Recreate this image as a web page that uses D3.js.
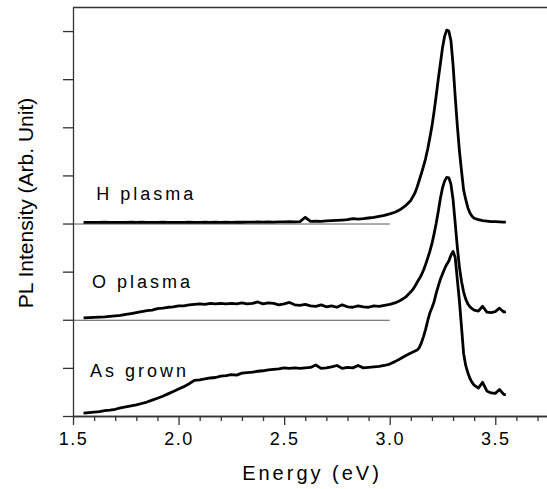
<!DOCTYPE html>
<html>
<head>
<meta charset="utf-8">
<script src="https://cdn.jsdelivr.net/npm/d3@7"></script>
<style>
  body { margin: 0; background: #fff; }
  svg { display: block; font-family: "Liberation Sans", Arial, sans-serif; }
  .axis path, .axis line { stroke: #333; stroke-width: 1.3; }
  .axis text { font-size: 18px; fill: #000; letter-spacing: 1.5px; }
</style>
</head>
<body>
<div id="chart"></div>
<script>
/*photon energy grid (eV), shared by all three spectra*/
var energy = [
  1.55, 1.575, 1.60, 1.625, 1.65, 1.675, 1.70, 1.725, 1.75, 1.775,
  1.80, 1.825, 1.85, 1.875, 1.90, 1.925, 1.95, 1.975, 2.00, 2.025,
  2.05, 2.075, 2.10, 2.125, 2.15, 2.175, 2.20, 2.225, 2.25, 2.275,
  2.30, 2.325, 2.35, 2.375, 2.40, 2.425, 2.45, 2.475, 2.50, 2.525,
  2.55, 2.575, 2.60, 2.625, 2.65, 2.675, 2.70, 2.725, 2.75, 2.775,
  2.80, 2.825, 2.85, 2.875, 2.90, 2.925, 2.95, 2.975, 3.00, 3.025,
  3.05, 3.075, 3.10,
  3.11, 3.12, 3.13, 3.14, 3.15, 3.16, 3.17, 3.18, 3.19, 3.20,
  3.21, 3.22, 3.23, 3.24, 3.25, 3.26, 3.27, 3.28, 3.29, 3.30,
  3.31, 3.32, 3.33, 3.34, 3.35, 3.36, 3.37, 3.38, 3.39, 3.40,
  3.42, 3.44, 3.46, 3.48, 3.50, 3.52, 3.54, 3.55
];

/*PL intensity of each sample, above its own baseline*/
var asGrown = [
  0.06, 0.07, 0.08, 0.09, 0.11, 0.12, 0.14, 0.17, 0.19, 0.21,
  0.23, 0.26, 0.29, 0.33, 0.37, 0.41, 0.46, 0.51, 0.56, 0.61,
  0.67, 0.74, 0.75, 0.77, 0.79, 0.80, 0.83, 0.84, 0.86, 0.85,
  0.89, 0.90, 0.91, 0.93, 0.94, 0.96, 0.97, 0.98, 1.00, 0.99,
  1.00, 0.99, 1.00, 1.01, 1.06, 0.99, 1.00, 1.02, 1.05, 0.99,
  1.01, 1.00, 1.05, 1.00, 1.01, 1.02, 1.03, 1.05, 1.08, 1.13,
  1.19, 1.25, 1.31,
  1.33, 1.35, 1.37, 1.42, 1.52, 1.65, 1.80, 1.98, 2.14, 2.25,
  2.37, 2.55, 2.70, 2.84, 2.95, 3.06, 3.15, 3.22, 3.34, 3.42,
  3.30, 2.85, 2.40, 1.85, 1.30, 1.05, 0.90, 0.78, 0.70, 0.64,
  0.58, 0.70, 0.52, 0.48, 0.47, 0.55, 0.45, 0.44
];

var oPlasma = [
  0.04, 0.045, 0.05, 0.055, 0.06, 0.07, 0.08, 0.09, 0.11, 0.13,
  0.15, 0.17, 0.19, 0.20, 0.23, 0.24, 0.26, 0.27, 0.29, 0.29,
  0.31, 0.32, 0.33, 0.32, 0.34, 0.33, 0.34, 0.33, 0.34, 0.33,
  0.35, 0.33, 0.34, 0.37, 0.33, 0.35, 0.34, 0.31, 0.33, 0.36,
  0.31, 0.30, 0.32, 0.29, 0.28, 0.31, 0.27, 0.29, 0.26, 0.31,
  0.27, 0.26, 0.29, 0.27, 0.26, 0.29, 0.28, 0.30, 0.32, 0.35,
  0.40, 0.47, 0.58,
  0.63, 0.70, 0.78, 0.85, 0.93, 1.03, 1.15, 1.28, 1.42, 1.58,
  1.78, 2.00, 2.25, 2.52, 2.74, 2.88, 2.96, 2.95, 2.82, 2.50,
  2.02, 1.52, 1.10, 0.80, 0.58, 0.43, 0.33, 0.27, 0.23, 0.20,
  0.18, 0.28, 0.16, 0.15, 0.17, 0.24, 0.16, 0.17
];

var hPlasma = [
  0.025, 0.022, 0.026, 0.024, 0.027, 0.023, 0.026, 0.025, 0.022, 0.027,
  0.025, 0.028, 0.024, 0.026, 0.023, 0.027, 0.025, 0.022, 0.026, 0.024,
  0.028, 0.025, 0.023, 0.027, 0.025, 0.029, 0.024, 0.028, 0.026, 0.030,
  0.027, 0.031, 0.028, 0.032, 0.029, 0.033, 0.031, 0.035, 0.033, 0.037,
  0.036, 0.040, 0.13, 0.045, 0.047, 0.045, 0.055, 0.060, 0.065, 0.072,
  0.080, 0.100, 0.092, 0.100, 0.115, 0.130, 0.150, 0.170, 0.200, 0.235,
  0.29, 0.37, 0.48,
  0.56, 0.64, 0.76, 0.90, 1.04, 1.19, 1.35, 1.55, 1.78, 2.02,
  2.32, 2.65, 3.00, 3.32, 3.65, 3.89, 4.02, 4.00, 3.80, 3.30,
  2.65, 2.05, 1.52, 1.10, 0.70, 0.50, 0.33, 0.22, 0.15, 0.11,
  0.08, 0.06, 0.05, 0.04, 0.04, 0.035, 0.03, 0.03
];

var seriesNames = ["As grown", "O plasma", "H plasma"];
var seriesValues = [asGrown, oPlasma, hPlasma];
var offsets = [0, 2, 4];          /*vertical stacking offset of each spectrum*/
var baselineEnd = 3.0;            /*the thin reference lines stop at 3.0 eV*/

var xMajorTicks = [1.5, 2.0, 2.5, 3.0, 3.5];
var xMinorTicks = [1.6, 1.7, 1.8, 1.9, 2.1, 2.2, 2.3, 2.4, 2.6, 2.7, 2.8, 2.9,
                   3.1, 3.2, 3.3, 3.4, 3.6, 3.7];
var yTicks = [0, 1, 2, 3, 4, 5, 6, 7, 8];

/*svg and plotting area*/
var svgWidth = 547;
var svgHeight = 489;
var margin = { top: 7, right: 0, bottom: 73, left: 73 };
var width = svgWidth - margin.left - margin.right;
var height = svgHeight - margin.top - margin.bottom;

var svg = d3.select("#chart").append("svg")
  .attr("width", svgWidth)
  .attr("height", svgHeight);

var g = svg.append("g")
  .attr("transform", `translate(${margin.left}, ${margin.top})`);

var xScale = d3.scaleLinear().domain([1.5, 3.745]).range([0, width]);
var yScale = d3.scaleLinear().domain([0, 8.5]).range([height, 0]);

/*thin baselines for the shifted spectra*/
g.selectAll(".baseline")
  .data(offsets.filter(d => d > 0))
  .enter().append("line")
  .attr("class", "baseline")
  .attr("x1", xScale(1.5))
  .attr("x2", xScale(baselineEnd))
  .attr("y1", d => yScale(d) + 0.5)
  .attr("y2", d => yScale(d) + 0.5)
  .attr("stroke", "#555")
  .attr("stroke-width", 1);

/*spectra*/
var line = d3.line()
  .x(d => xScale(d[0]))
  .y(d => yScale(d[1]));

seriesValues.forEach(function(values, i) {
  var pts = energy.map((e, j) => [e, values[j] + offsets[i]]);
  g.append("path")
    .datum(pts)
    .attr("fill", "none")
    .attr("stroke", "#000")
    .attr("stroke-width", 2.8)
    .attr("stroke-linejoin", "round")
    .attr("d", line);
});

/*axes*/
g.append("g")
  .attr("class", "x axis")
  .attr("transform", `translate(0,${height})`)
  .call(d3.axisBottom(xScale).tickValues(xMinorTicks).tickSize(5).tickSizeOuter(0).tickFormat(""));

g.append("g")
  .attr("class", "x axis")
  .attr("transform", `translate(0,${height})`)
  .call(d3.axisBottom(xScale).tickValues(xMajorTicks).tickSize(9).tickSizeOuter(0)
    .tickPadding(7).tickFormat(d3.format(".1f")));

g.append("g")
  .attr("class", "y axis")
  .call(d3.axisLeft(yScale).tickValues(yTicks).tickSize(10).tickSizeOuter(0).tickFormat(""));

/*top border of the frame*/
g.append("line")
  .attr("x1", 0).attr("x2", width)
  .attr("y1", 0.5).attr("y2", 0.5)
  .attr("stroke", "#333")
  .attr("stroke-width", 1.3);

/*sample labels*/
var labelPos = [[1.58, 0.82], [1.59, 2.65], [1.61, 4.48]];
g.selectAll(".sample")
  .data(seriesNames)
  .enter().append("text")
  .attr("class", "sample")
  .attr("x", (d, i) => xScale(labelPos[i][0]))
  .attr("y", (d, i) => yScale(labelPos[i][1]))
  .style("font-size", "18px")
  .style("letter-spacing", "3px")
  .text(d => d);

/*axis titles*/
svg.append("text")
  .attr("text-anchor", "middle")
  .attr("x", 312)
  .attr("y", 480)
  .style("font-size", "20px")
  .style("letter-spacing", "3px")
  .text("Energy (eV)");

svg.append("text")
  .attr("text-anchor", "middle")
  .attr("transform", "translate(33,203) rotate(-90)")
  .style("font-size", "21px")
  .text("PL Intensity (Arb. Unit)");
</script>
</body>
</html>
